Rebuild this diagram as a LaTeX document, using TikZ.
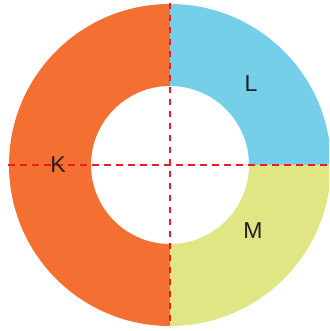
\documentclass[tikz,border=0pt]{standalone}
\usepackage{fontspec}
\setmainfont{Liberation Sans}
\definecolor{kcol}{HTML}{F37032}
\definecolor{lcol}{HTML}{75CFE8}
\definecolor{mcol}{HTML}{E1E685}
\definecolor{dashred}{HTML}{ED1C24}
\definecolor{txt}{HTML}{231F20}
\tikzset{
  divider/.style={draw=dashred, line width=2.5pt, dash pattern=on 6.5pt off 5.5pt},
  lab/.style={text=txt, font=\fontsize{23}{27}\selectfont, inner sep=0pt}
}
\begin{document}
\begin{tikzpicture}[x=1pt,y=1pt]
\useasboundingbox (0,0) rectangle (329,331);
\clip (0,0) rectangle (329,331);
\coordinate (c) at (170,166);
\fill[kcol] (c) ++(90:161) arc[start angle=90,end angle=270,radius=161] -- ++(0,82) arc[start angle=270,end angle=90,radius=79] -- cycle;
\fill[lcol] (c) ++(0:161) arc[start angle=0,end angle=90,radius=161] -- ++(0,-82) arc[start angle=90,end angle=0,radius=79] -- cycle;
\fill[mcol] (c) ++(270:161) arc[start angle=270,end angle=360,radius=161] -- ++(-82,0) arc[start angle=0,end angle=-90,radius=79] -- cycle;
\coordinate (hl) at (8,166);
\coordinate (hr) at (329,166);
\coordinate (vt) at (170,328);
\coordinate (vb) at (170,4);
\draw[divider] (hl) -- (hr);
\draw[divider] (vt) -- (vb);
\node[lab] (K) at (58,166) {K};
\node[lab] (L) at (251,247) {L};
\node[lab] (M) at (253,100) {M};
\end{tikzpicture}
\end{document}
